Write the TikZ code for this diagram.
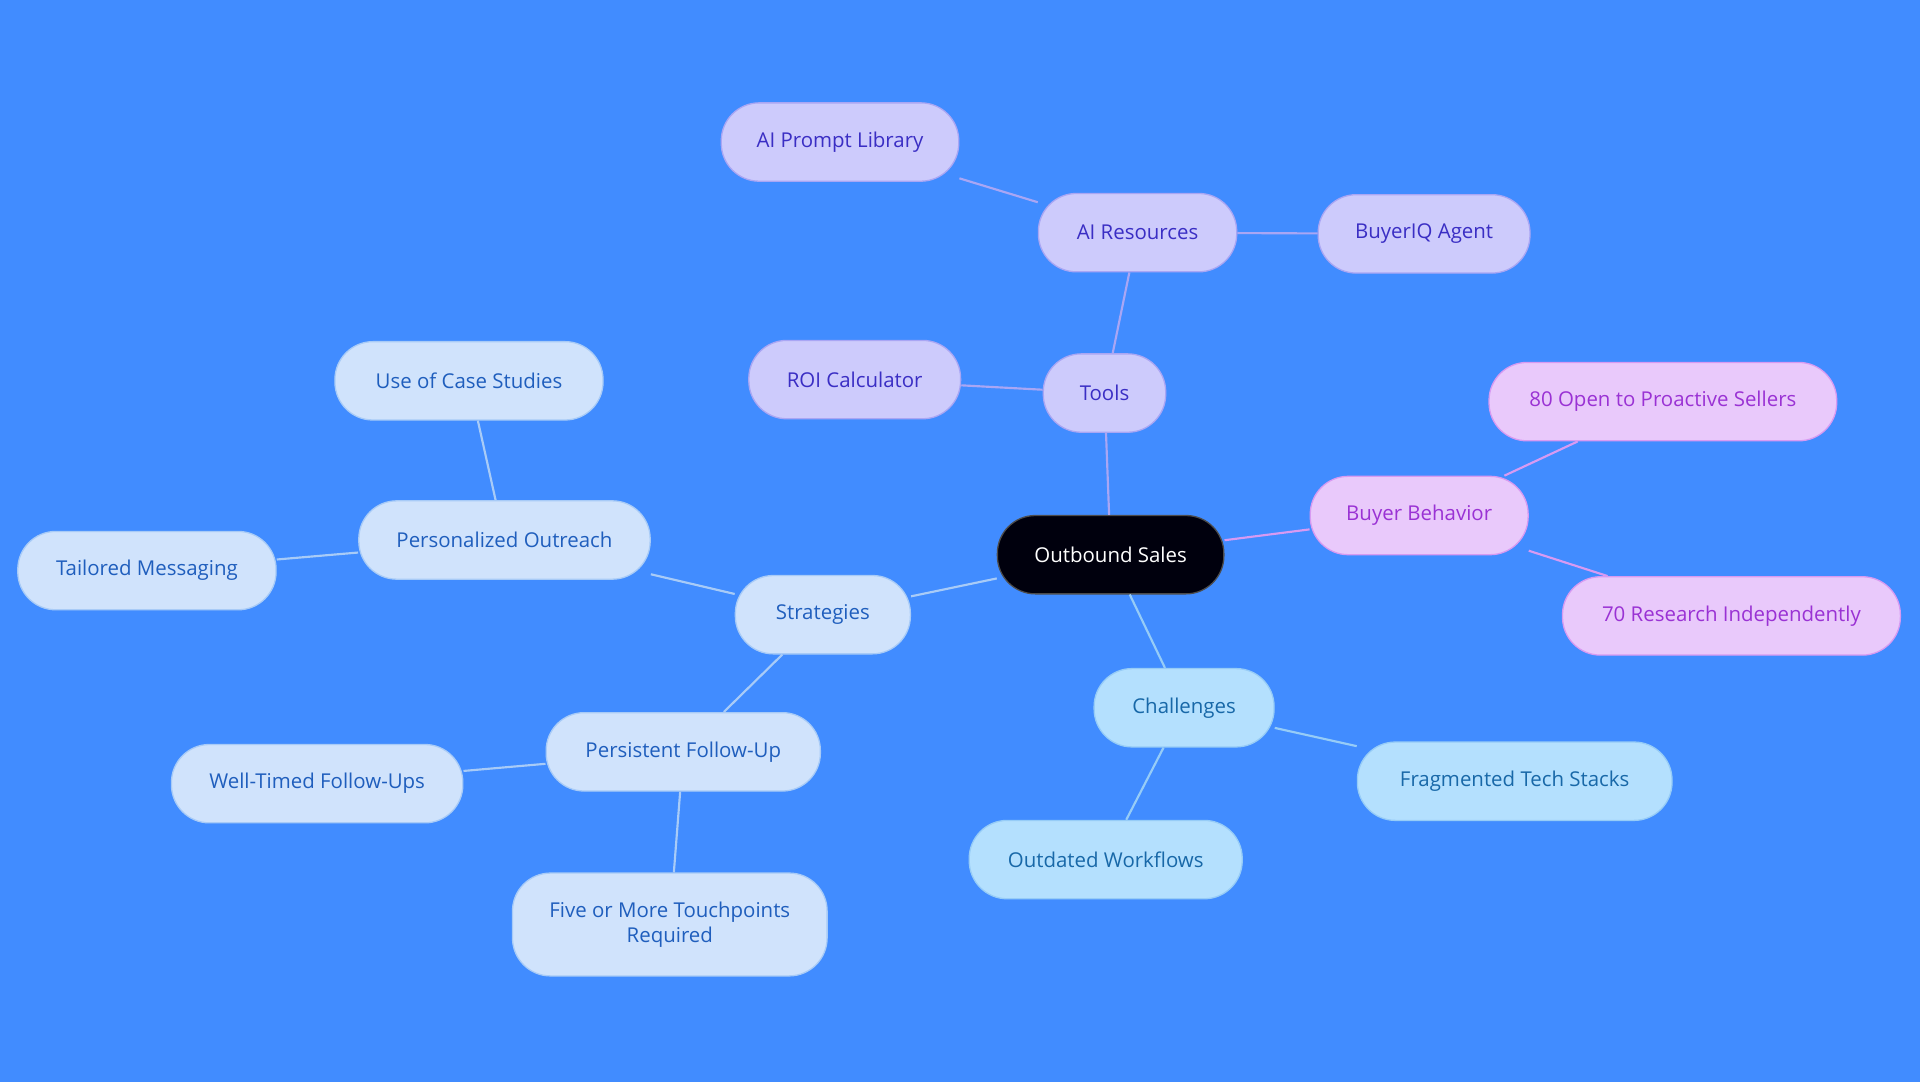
\documentclass[tikz,border=0pt]{standalone}
\usepackage{fontspec}
\setmainfont{Open Sans}
\definecolor{bg}{HTML}{418CFF}
\definecolor{toolfill}{HTML}{CDCBFC}
\definecolor{tooltext}{HTML}{3A2EC4}
\definecolor{toolline}{HTML}{A9A6F4}
\definecolor{buyfill}{HTML}{E9C9FB}
\definecolor{buytext}{HTML}{9A32D4}
\definecolor{buyline}{HTML}{D79AF2}
\definecolor{chalfill}{HTML}{B4E0FE}
\definecolor{chaltext}{HTML}{1868A8}
\definecolor{challine}{HTML}{96CCF7}
\definecolor{stratfill}{HTML}{D0E3FC}
\definecolor{strattext}{HTML}{1F5EBD}
\definecolor{stratline}{HTML}{A8CBF7}
\tikzset{
  topic/.style={rounded corners=0.62cm, minimum height=1.28cm, align=center, font=\fontsize{9.5pt}{11.5pt}\selectfont, line width=0.6pt},
  root/.style={topic, fill=black!95!blue, draw=black!70, text=white},
  tool/.style={topic, fill=toolfill, draw=toolline, text=tooltext},
  buy/.style={topic, fill=buyfill, draw=buyline, text=buytext},
  chal/.style={topic, fill=chalfill, draw=challine, text=chaltext},
  strat/.style={topic, fill=stratfill, draw=stratline, text=strattext},
}
\begin{document}
\begin{tikzpicture}[x=0.02cm,y=-0.02cm]
  \fill[bg] (0,0) rectangle (1568,884);
  \useasboundingbox (0,0) rectangle (1568,884);

  \node (sales) [root, minimum width=3.7cm] at (907,453) {Outbound Sales};

  \node (tools) [tool, minimum width=2cm] at (902,321) {Tools};
  \node (ai) [tool, minimum width=3.24cm] at (929,190) {AI Resources};
  \node (prompt) [tool, minimum width=3.88cm] at (686,116) {AI Prompt Library};
  \node (buyeriq) [tool, minimum width=3.46cm] at (1163,191) {BuyerIQ Agent};
  \node (roi) [tool, minimum width=3.46cm] at (698,310) {ROI Calculator};

  \node (behavior) [buy, minimum width=3.56cm] at (1159,421) {Buyer Behavior};
  \node (open) [buy, minimum width=5.68cm] at (1358,328) {80 Open to Proactive Sellers};
  \node (research) [buy, minimum width=5.52cm] at (1414,503) {70 Research Independently};

  \node (challenges) [chal, minimum width=2.94cm] at (967,578) {Challenges};
  \node (stacks) [chal, minimum width=5.14cm] at (1237,638) {Fragmented Tech Stacks};
  \node (workflows) [chal, minimum width=4.46cm] at (903,702) {Outdated Workflows};

  \node (strategies) [strat, minimum width=2.86cm] at (672,502) {Strategies};
  \node (outreach) [strat, minimum width=4.76cm] at (412,441) {Personalized Outreach};
  \node (cases) [strat, minimum width=4.38cm] at (383,311) {Use of Case Studies};
  \node (tailored) [strat, minimum width=4.22cm] at (120,466) {Tailored Messaging};
  \node (followup) [strat, minimum width=4.48cm] at (558,614) {Persistent Follow-Up};
  \node (welltimed) [strat, minimum width=4.76cm] at (259,640) {Well-Timed Follow-Ups};
  \node (touch) [strat, minimum width=5.14cm, minimum height=1.68cm] at (547,755) {Five or More Touchpoints\\Required};

  % connectors
  \draw[toolline, line width=1pt] (sales) -- (tools);
  \draw[toolline, line width=1pt] (tools) -- (ai);
  \draw[toolline, line width=1pt] (tools) -- (roi);
  \draw[toolline, line width=1pt] (ai) -- (prompt);
  \draw[toolline, line width=1pt] (ai) -- (buyeriq);
  \draw[buyline, line width=1pt] (sales) -- (behavior);
  \draw[buyline, line width=1pt] (behavior) -- (open);
  \draw[buyline, line width=1pt] (behavior) -- (research);
  \draw[challine, line width=1pt] (sales) -- (challenges);
  \draw[challine, line width=1pt] (challenges) -- (stacks);
  \draw[challine, line width=1pt] (challenges) -- (workflows);
  \draw[stratline, line width=1pt] (sales) -- (strategies);
  \draw[stratline, line width=1pt] (strategies) -- (outreach);
  \draw[stratline, line width=1pt] (strategies) -- (followup);
  \draw[stratline, line width=1pt] (outreach) -- (cases);
  \draw[stratline, line width=1pt] (outreach) -- (tailored);
  \draw[stratline, line width=1pt] (followup) -- (welltimed);
  \draw[stratline, line width=1pt] (followup) -- (touch);
\end{tikzpicture}
\end{document}
